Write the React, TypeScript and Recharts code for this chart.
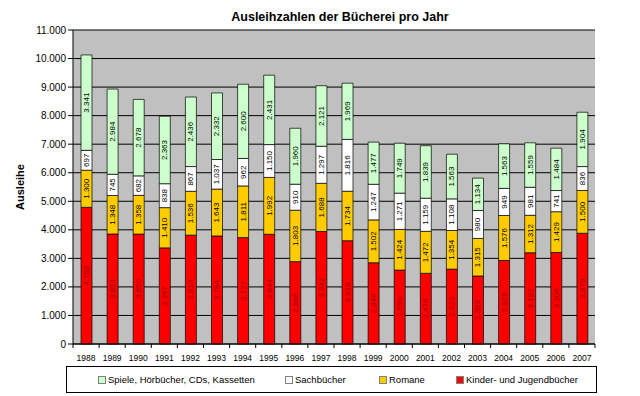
import React from 'react';
import { BarChart, Bar, XAxis, YAxis, CartesianGrid, Legend, LabelList } from 'recharts';

const years = ['1988', '1989', '1990', '1991', '1992', '1993', '1994', '1995', '1996', '1997', '1998', '1999', '2000', '2001', '2002', '2003', '2004', '2005', '2006', '2007'];
const kinder = [4788, 3854, 3850, 3367, 3813, 3784, 3727, 3844, 2885, 3942, 3618, 2846, 2590, 2476, 2623, 2383, 2926, 3197, 3206, 3879];
const romane = [1300, 1348, 1358, 1410, 1536, 1643, 1811, 1992, 1803, 1688, 1734, 1502, 1424, 1472, 1354, 1315, 1576, 1312, 1429, 1500];
const sach = [697, 745, 682, 838, 867, 1037, 962, 1150, 910, 1297, 1816, 1247, 1271, 1159, 1108, 980, 949, 981, 741, 836];
const spiele = [3341, 2984, 2678, 2363, 2436, 2332, 2600, 2431, 1960, 2121, 1969, 1477, 1749, 1839, 1563, 1134, 1563, 1559, 1484, 1904];
const yTicks = [0, 1000, 2000, 3000, 4000, 5000, 6000, 7000, 8000, 9000, 10000, 11000];

const title = 'Ausleihzahlen der Bücherei pro Jahr';
const yLabel = 'Ausleihe';

const series = [
  { key: 'kinder', name: 'Kinder- und Jugendbücher', color: '#ff0000', text: '#990000' },
  { key: 'romane', name: 'Romane', color: '#ffcc00', text: '#000000' },
  { key: 'sach', name: 'Sachbücher', color: '#ffffff', text: '#000000' },
  { key: 'spiele', name: 'Spiele, Hörbücher, CDs, Kassetten', color: '#ccffcc', text: '#000000' },
];

const data = years.map((y, i) => ({
  year: y,
  kinder: kinder[i],
  romane: romane[i],
  sach: sach[i],
  spiele: spiele[i],
}));

const fmt = (v: number) => String(v).replace(/\B(?=(\d{3})+(?!\d))/g, '.');

const makeLabel = (color: string) => (props: any) => {
  const { x, y, width, height, value } = props;
  const cx = Number(x) + Number(width) / 2;
  const cy = Number(y) + Number(height) / 2;
  return (
    <text
      x={cx}
      y={cy}
      transform={`rotate(-90 ${cx} ${cy})`}
      textAnchor="middle"
      dominantBaseline="central"
      fontSize={8}
      fill={color}
    >
      {fmt(Number(value))}
    </text>
  );
};

const TICK_SIZE = 4;
const TICK_MARGIN = 3;

const YearTick = (props: any) => {
  const { x, y, payload, width, visibleTicksCount, index } = props;
  const n = Number(visibleTicksCount) || years.length;
  const band = Number(width) / n;
  const axisY = Number(y) - TICK_SIZE - TICK_MARGIN;
  const left = Number(x) - band / 2;
  const right = Number(x) + band / 2;
  return (
    <g>
      <line x1={left} x2={left} y1={axisY} y2={axisY + TICK_SIZE} stroke="#000" />
      {index === n - 1 ? (
        <line x1={right} x2={right} y1={axisY} y2={axisY + TICK_SIZE} stroke="#000" />
      ) : null}
      <text x={x} y={Number(y) + 7} textAnchor="middle" dominantBaseline="central" fontSize={8.5} fill="#000">
        {payload.value}
      </text>
    </g>
  );
};

const legendOrder = [series[3], series[2], series[1], series[0]];
const legendLeft = [31, 218, 312, 389];

const LegendBox = () => (
  <div
    style={{
      position: 'relative',
      width: 531,
      height: 27,
      border: '1px solid #000',
      boxSizing: 'border-box',
      background: '#fff',
      fontSize: 9.5,
    }}
  >
    {legendOrder.map((s, i) => (
      <div
        key={s.key}
        style={{
          position: 'absolute',
          left: legendLeft[i],
          top: 6,
          display: 'flex',
          alignItems: 'center',
          whiteSpace: 'nowrap',
          lineHeight: '13px',
        }}
      >
        <span
          style={{
            display: 'inline-block',
            width: 6,
            height: 6,
            background: s.color,
            border: '1px solid #808080',
            marginRight: 2,
          }}
        />
        <span>{s.name}</span>
      </div>
    ))}
  </div>
);

export default function App() {
  return (
    <div
      style={{
        position: 'absolute',
        left: 0,
        top: 0,
        width: 640,
        height: 396,
        background: '#fff',
        fontFamily: '"Liberation Sans", Arial, sans-serif',
        color: '#000',
      }}
    >
      <div
        style={{
          position: 'absolute',
          left: 0,
          width: 680,
          top: 9,
          textAlign: 'center',
          fontWeight: 'bold',
          fontSize: 12.5,
          lineHeight: '16px',
          whiteSpace: 'nowrap',
        }}
      >
        {title}
      </div>
      <div
        style={{
          position: 'absolute',
          left: 20,
          top: 187,
          transform: 'translate(-50%, -50%) rotate(-90deg)',
          fontWeight: 'bold',
          fontSize: 11,
          whiteSpace: 'nowrap',
        }}
      >
        {yLabel}
      </div>
      <BarChart
        width={640}
        height={396}
        data={data}
        margin={{ top: 30, right: 45, bottom: 32, left: 0 }}
        barSize={11}
      >
        <CartesianGrid vertical={false} fill="#c0c0c0" stroke="#000" />
        <XAxis
          dataKey="year"
          interval={0}
          tickLine={false}
          axisLine={{ stroke: '#000' }}
          tick={<YearTick />}
          tickSize={TICK_SIZE}
          tickMargin={TICK_MARGIN}
          height={20}
        />
        <YAxis
          domain={[0, 11000]}
          ticks={yTicks}
          tickFormatter={fmt}
          width={73}
          tick={{ fontSize: 10, fill: '#000' }}
          tickSize={5}
          tickMargin={2}
          axisLine={{ stroke: '#000' }}
          tickLine={{ stroke: '#000' }}
          interval={0}
        />
        <YAxis
          yAxisId="r"
          orientation="right"
          domain={[0, 11000]}
          width={0}
          tick={false}
          tickLine={false}
          axisLine={{ stroke: '#808080' }}
        />
        <Legend
          layout="horizontal"
          verticalAlign="middle"
          align="center"
          wrapperStyle={{ position: 'absolute', left: 66, top: 366, width: 531, height: 27, margin: 0 }}
          content={() => <LegendBox />}
        />
        {series.map((s) => (
          <Bar
            key={s.key}
            dataKey={s.key}
            name={s.name}
            stackId="a"
            fill={s.color}
            stroke="#000"
            strokeWidth={0.7}
            isAnimationActive={false}
          >
            <LabelList dataKey={s.key} content={makeLabel(s.text)} />
          </Bar>
        ))}
      </BarChart>
    </div>
  );
}
